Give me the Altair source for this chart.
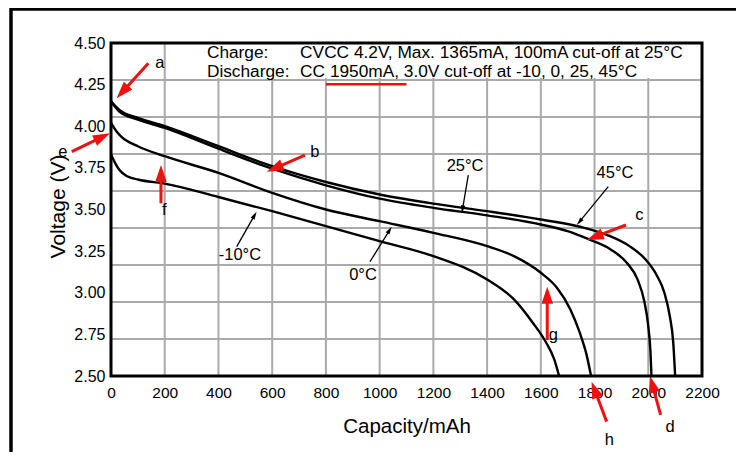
import math
import altair as alt
import pandas as pd

# ---------------- data ----------------
cap_45 = [0, 30, 100, 200, 400, 600, 800, 1000, 1200, 1400, 1600, 1750, 1850, 1930, 1990, 2030, 2060, 2080, 2093, 2100]
v_45 = [4.15, 4.10, 4.05, 4.00, 3.88, 3.76, 3.665, 3.59, 3.535, 3.49, 3.44, 3.395, 3.345, 3.28, 3.20, 3.11, 3.00, 2.86, 2.70, 2.50]

cap_25 = [0, 30, 100, 200, 400, 600, 800, 1000, 1200, 1400, 1600, 1700, 1780, 1860, 1920, 1960, 1985, 2000, 2008, 2012]
v_25 = [4.15, 4.09, 4.04, 3.99, 3.865, 3.745, 3.645, 3.565, 3.51, 3.465, 3.41, 3.37, 3.32, 3.26, 3.18, 3.08, 2.95, 2.80, 2.65, 2.50]

cap_0 = [0, 20, 40, 100, 200, 400, 600, 800, 1000, 1200, 1400, 1500, 1600, 1660, 1710, 1745, 1770, 1787]
v_0 = [4.02, 3.97, 3.935, 3.88, 3.82, 3.72, 3.60, 3.50, 3.43, 3.36, 3.28, 3.22, 3.12, 3.03, 2.90, 2.76, 2.63, 2.50]

cap_m10 = [0, 15, 30, 60, 100, 200, 400, 600, 800, 1000, 1200, 1400, 1500, 1570, 1620, 1650, 1668]
v_m10 = [3.83, 3.78, 3.74, 3.70, 3.68, 3.655, 3.575, 3.49, 3.40, 3.31, 3.22, 3.08, 2.96, 2.82, 2.70, 2.60, 2.50]

x_ticks = [0, 200, 400, 600, 800, 1000, 1200, 1400, 1600, 1800, 2000, 2200]
y_ticks = [2.50, 2.75, 3.00, 3.25, 3.50, 3.75, 4.00, 4.25, 4.50]
x_grid = [200, 400, 600, 800, 1000, 1200, 1400, 1600, 1800, 2000]
y_grid = [2.722, 2.944, 3.167, 3.389, 3.611, 3.833, 4.056, 4.278]

# temperature labels with pointer arrows (label position, tail, tip)
temp_labels = ["25°C", "45°C", "0°C", "-10°C"]
temp_lx = [1318, 1876, 938, 480]
temp_ly = [3.761, 3.719, 3.107, 3.227]
temp_tx = [1330, 1851, 964, 468]
temp_ty = [3.707, 3.637, 3.186, 3.277]
temp_hx = [1306, 1734, 1045, 542]
temp_hy = [3.477, 3.407, 3.397, 3.487]

# red letter markers
mark_letters = ["a", "e", "f", "b", "c", "g", "h", "d"]
mark_lx = [182, -179, 198, 759, 1967, 1647, 1855, 2081]
mark_ly = [4.38, 3.845, 3.497, 3.847, 3.467, 2.746, 2.116, 2.196]
mark_tx = [139, -146, 186, 722, 1917, 1624, 1845, 2046]
mark_ty = [4.378, 3.847, 3.537, 3.827, 3.407, 2.716, 2.226, 2.266]
mark_hx = [21, -4, 186, 580, 1771, 1624, 1789, 2006]
mark_hy = [4.168, 3.958, 3.767, 3.727, 3.317, 3.036, 2.466, 2.50]

info_keys = ["Charge:", "Discharge:"]
info_vals = ["CVCC 4.2V, Max. 1365mA, 100mA cut-off at 25°C",
             "CC 1950mA, 3.0V cut-off at -10, 0, 25, 45°C"]
info_key_x = [357, 357]
info_val_x = [704, 704]
info_y = [4.437, 4.323]
box = {"x": 350, "x2": 2200, "y": 4.5, "y2": 4.29}
underline = {"x": 800, "x2": 1100, "y": 4.252}

# ---------------- layout ----------------
W, H = 591, 333
PAD_L, PAD_T = 103, 35
FONT = "Liberation Sans"
RED = "#ee1111"
GRID = "#aaaaaa"

rows = []
for name, cs, vs in [("45", cap_45, v_45), ("25", cap_25, v_25), ("0", cap_0, v_0), ("-10", cap_m10, v_m10)]:
    for c, v in zip(cs, vs):
        rows.append({"series": name, "cap": c, "v": v})
curves = pd.DataFrame(rows)

sx = W / 2200.0
sy = H / 2.0


def arrows(tx, ty, hx, hy, head):
    out = []
    for x1, y1, x2, y2 in zip(tx, ty, hx, hy):
        dx = (x2 - x1) * sx
        dy = -(y2 - y1) * sy
        L = math.hypot(dx, dy)
        ux, uy = dx / L, dy / L
        ang = math.degrees(math.atan2(ux, -uy)) % 360
        cx = x2 - ux * head / 2 / sx
        cy = y2 + uy * head / 2 / sy
        out.append({"x1": x1, "y1": y1, "x2": cx, "y2": cy, "ang": ang})
    return pd.DataFrame(out)


xs = alt.Scale(domain=[0, 2200], nice=False, zero=False)
ys = alt.Scale(domain=[2.5, 4.5], nice=False, zero=False)

x_axis = alt.Axis(values=x_ticks, format="d", title="Capacity/mAh")
y_axis = alt.Axis(values=y_ticks, format=".2f", title="Voltage (V)")


def X(f):
    return alt.X(f, scale=xs, axis=x_axis)


def Y(f):
    return alt.Y(f, scale=ys, axis=y_axis)


one = pd.DataFrame({"k": [0]})

vgrid = alt.Chart(pd.DataFrame({"g": x_grid})).mark_rule(color=GRID, strokeWidth=2).encode(x=X("g:Q"))

white_box = alt.Chart(pd.DataFrame([box])).mark_rect(color="white").encode(
    x=X("x:Q"), x2="x2:Q", y=Y("y:Q"), y2="y2:Q")

hgrid = alt.Chart(pd.DataFrame({"g": y_grid})).mark_rule(color=GRID, strokeWidth=2).encode(y=Y("g:Q"))

lines = alt.Chart(curves).mark_line(color="black", strokeWidth=2.4, interpolate="monotone").encode(
    x=X("cap:Q"), y=Y("v:Q"), detail="series:N", order="cap:Q")

# black pointer arrows
blk = arrows(temp_tx, temp_ty, temp_hx, temp_hy, 8)
blk_shaft = alt.Chart(blk).mark_rule(color="black", strokeWidth=1.3).encode(
    x=X("x1:Q"), y=Y("y1:Q"), x2="x2:Q", y2="y2:Q")
blk_head = alt.Chart(blk).mark_point(shape="M0,-1L0.55,1L-0.55,1Z", filled=True, color="black",
                                     size=64, opacity=1).encode(
    x=X("x2:Q"), y=Y("y2:Q"), angle=alt.Angle("ang:Q", scale=None))
temp_text = alt.Chart(pd.DataFrame({"t": temp_labels, "x": temp_lx, "y": temp_ly})).mark_text(
    font=FONT, fontSize=16.5, color="black", align="center", baseline="middle").encode(
    x=X("x:Q"), y=Y("y:Q"), text="t:N")

# red markers
red = arrows(mark_tx, mark_ty, mark_hx, mark_hy, 17)
red_shaft = alt.Chart(red).mark_rule(color=RED, strokeWidth=3).encode(
    x=X("x1:Q"), y=Y("y1:Q"), x2="x2:Q", y2="y2:Q")
red_head = alt.Chart(red).mark_point(shape="M0,-1L0.68,1L-0.68,1Z", filled=True, color=RED,
                                     size=289, opacity=1).encode(
    x=X("x2:Q"), y=Y("y2:Q"), angle=alt.Angle("ang:Q", scale=None))
red_text = alt.Chart(pd.DataFrame({"t": mark_letters, "x": mark_lx, "y": mark_ly})).mark_text(
    font=FONT, fontSize=16.5, color="black", align="center", baseline="middle").encode(
    x=X("x:Q"), y=Y("y:Q"), text="t:N")

info_df = pd.DataFrame({"k": info_keys, "v": info_vals, "kx": info_key_x, "vx": info_val_x, "y": info_y})
info_k = alt.Chart(info_df).mark_text(font=FONT, fontSize=17.3, color="black", align="left",
                                      baseline="middle").encode(x=X("kx:Q"), y=Y("y:Q"), text="k:N")
info_v = alt.Chart(info_df).mark_text(font=FONT, fontSize=17.3, color="black", align="left",
                                      baseline="middle").encode(x=X("vx:Q"), y=Y("y:Q"), text="v:N")
ul = alt.Chart(pd.DataFrame([underline])).mark_rule(color=RED, strokeWidth=2.5).encode(
    x=X("x:Q"), x2="x2:Q", y=Y("y:Q"))

border = alt.Chart(one).mark_rect(filled=False, stroke="black", strokeWidth=3).encode(
    x=alt.value(0), x2=alt.value(W), y=alt.value(0), y2=alt.value(H))
frame_left = alt.Chart(one).mark_rule(color="black", strokeWidth=3.5).encode(
    x=alt.value(-PAD_L + 3), y=alt.value(-PAD_T), y2=alt.value(H + 120))
frame_top = alt.Chart(one).mark_rule(color="black", strokeWidth=3.5).encode(
    x=alt.value(-PAD_L + 3), x2=alt.value(W + 60), y=alt.value(-PAD_T + 1))

chart = alt.layer(
    vgrid, white_box, hgrid, lines, blk_shaft, blk_head, temp_text,
    red_shaft, red_head, red_text, info_k, info_v, ul, border, frame_left, frame_top
).properties(
    width=W, height=H,
    autosize=alt.AutoSizeParams(type="none"),
    padding={"left": PAD_L, "top": PAD_T, "right": 34, "bottom": 76},
    background="white",
).configure_view(stroke=None).configure_axisX(
    grid=False, domain=False, ticks=False, labelFont=FONT, labelFontSize=15.5, labelColor="black",
    labelPadding=9, labelFlush=False, titleFont=FONT, titleFontSize=20.5, titleFontWeight="normal",
    titleColor="black", titlePadding=16
).configure_axisY(
    grid=False, domain=False, ticks=False, labelFont=FONT, labelFontSize=16, labelColor="black",
    labelPadding=6, titleFont=FONT, titleFontSize=21, titleFontWeight="normal", titleColor="black",
    titleX=-53, titleY=163, titleAlign="center", titleBaseline="middle", titleAngle=270
)

chart.save("out.html", embed_options={"renderer": "svg", "actions": False})
